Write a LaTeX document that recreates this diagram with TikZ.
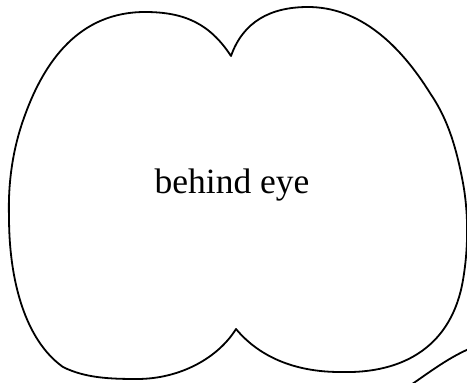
\documentclass[tikz,border=0pt]{standalone}
\usepackage{fontspec}
\setmainfont{Liberation Serif}
\begin{document}
\begin{tikzpicture}[x=1pt,y=-1pt,
  outline/.style={line width=1.8pt, line join=round},
  lbl/.style={font=\fontsize{35.5}{42}\selectfont, inner sep=0pt}]
\useasboundingbox (0,0) rectangle (467,383);
\clip (0,0) rectangle (467,383);
\coordinate (topnotch) at (231,56);
\coordinate (botnotch) at (236,329);
\draw[outline] (topnotch)
  .. controls (210,24) and (185,12) .. (145,12)
  .. controls (80,12) and (45,60) .. (25,115)
  .. controls (12,150) and (8,185) .. (9,217)
  .. controls (9,280) and (25,340) .. (63,367)
  .. controls (85,378) and (110,379) .. (137,379)
  .. controls (180,379) and (218,358) .. (botnotch)
  .. controls (262,360) and (300,372) .. (340,372)
  .. controls (405,374) and (452,345) .. (463,280)
  .. controls (469,245) and (468,210) .. (463,183)
  .. controls (455,140) and (445,115) .. (430,93)
  .. controls (400,45) and (360,7) .. (308,7)
  .. controls (270,7) and (243,22) .. (topnotch) -- cycle;
\coordinate (o1) at (405,389);
\coordinate (o2) at (476,346);
\draw[outline] (o1) .. controls (430,372) and (450,356) .. (o2);
\node[lbl, anchor=base] (label) at (232,193) {behind eye};
\end{tikzpicture}
\end{document}
